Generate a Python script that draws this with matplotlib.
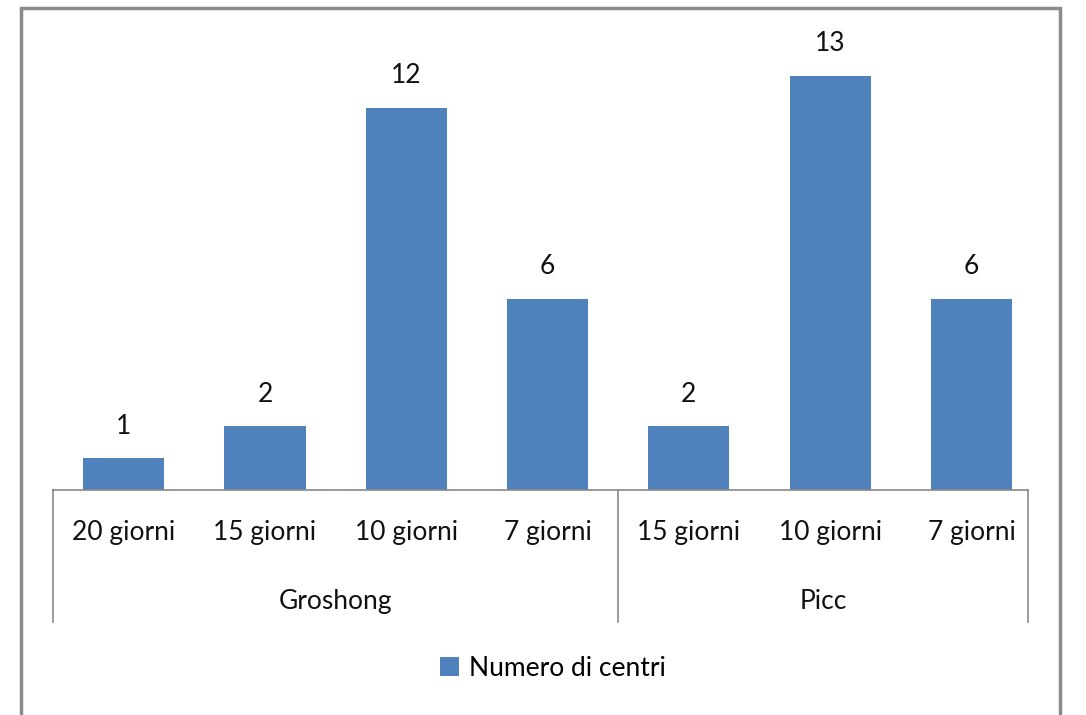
import matplotlib
matplotlib.use("Agg")
import matplotlib.pyplot as plt
import matplotlib.transforms as mtransforms
from matplotlib.patches import Rectangle

# Data
categories = ["20 giorni", "15 giorni", "10 giorni", "7 giorni",
              "15 giorni", "10 giorni", "7 giorni"]
values = [1, 2, 12, 6, 2, 13, 6]
groups = ["Groshong", "Picc"]
group_sizes = [4, 3]
series_name = "Numero di centri"

BAR_COLOR = "#4F81BD"
LINE_COLOR = "#898989"
TEXT_COLOR = "#111111"
W, H = 1086, 715
FS = 19

plt.rcParams['font.family'] = ['Lato', 'DejaVu Sans']

fig = plt.figure(figsize=(W / 100, H / 100), dpi=100)

# outer chart frame (bottom edge falls outside the picture)
fig.patches.append(Rectangle((21 / W, -0.05), (1060 - 21) / W, 1.05 - 8 / H,
                             transform=fig.transFigure, fill=False,
                             edgecolor="#8a8a8a", linewidth=2.5))

ax = fig.add_axes([53 / W, (H - 490) / H, (1028 - 53) / W, (490 - 44) / H])
x = list(range(len(values)))
bars = ax.bar(x, values, width=0.575, color=BAR_COLOR, label=series_name, zorder=2)

# last slot is a bit narrower in the original
x_right = len(values) - 0.6
ax.set_xlim(-0.5, x_right)
ax.set_ylim(0, 14)
ax.set_yticks([])
ax.set_xticks([])
for s in ["left", "right", "top"]:
    ax.spines[s].set_visible(False)
ax.spines["bottom"].set_color(LINE_COLOR)
ax.spines["bottom"].set_linewidth(1.2)

# value labels
for xi, v in zip(x, values):
    ax.annotate(str(v), (xi, v), xytext=(0, 23), textcoords="offset points",
                ha="center", va="center", fontsize=FS, color=TEXT_COLOR)

# two-level category axis
trans = mtransforms.blended_transform_factory(ax.transData, ax.transAxes)
for xi, lab in zip(x, categories):
    ax.text(xi, -0.096, lab, transform=trans, ha="center", va="center",
            fontsize=FS, color=TEXT_COLOR)

start = -0.5
bounds = [start]
for gname, n in zip(groups, group_sizes):
    end = min(start + n, x_right)
    ax.text((start + end) / 2, -0.251, gname, transform=trans, ha="center",
            va="center", fontsize=FS, color=TEXT_COLOR)
    start = end
    bounds.append(end)
for b in bounds:
    ax.plot([b, b], [0, -0.296], transform=trans, color=LINE_COLOR,
            linewidth=1.2, clip_on=False)

leg = fig.legend(handles=[bars], labels=[series_name], loc="center",
                 bbox_to_anchor=(553 / W, (H - 668) / H), frameon=False,
                 fontsize=FS, handlelength=0.7, handleheight=0.7,
                 handletextpad=0.4)

fig.savefig("out.png", dpi=100)
